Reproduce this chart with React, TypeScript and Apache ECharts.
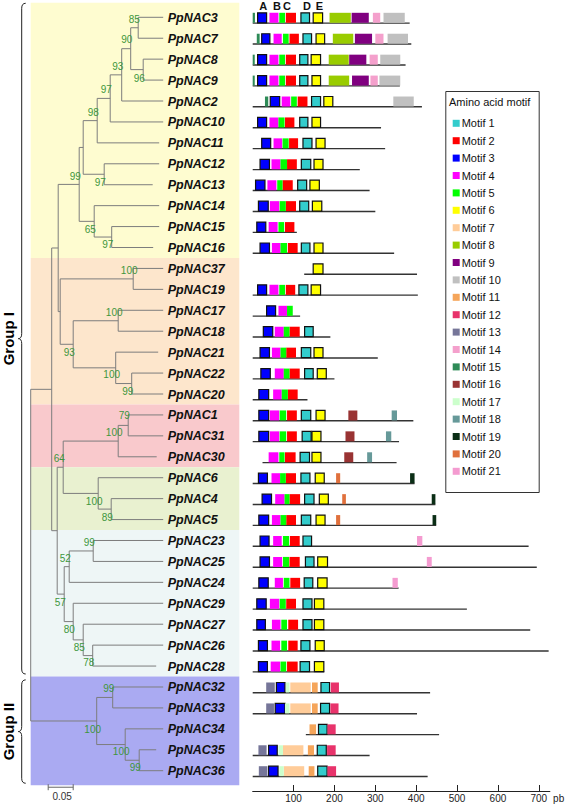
import React, { useEffect, useRef } from "react";
import * as echarts from "echarts";

// ---------------- DATA ----------------
const geneNames = [
  "PpNAC3", "PpNAC7", "PpNAC8", "PpNAC9", "PpNAC2", "PpNAC10", "PpNAC11", "PpNAC12",
  "PpNAC13", "PpNAC14", "PpNAC15", "PpNAC16", "PpNAC37", "PpNAC19", "PpNAC17", "PpNAC18",
  "PpNAC21", "PpNAC22", "PpNAC20", "PpNAC1", "PpNAC31", "PpNAC30", "PpNAC6", "PpNAC4",
  "PpNAC5", "PpNAC23", "PpNAC25", "PpNAC24", "PpNAC29", "PpNAC27", "PpNAC26", "PpNAC28",
  "PpNAC32", "PpNAC33", "PpNAC34", "PpNAC35", "PpNAC36",
];

// distance of each leaf tip from the root (substitutions / site)
const leafDepth = [
  0.265, 0.265, 0.265, 0.265, 0.265, 0.265, 0.257, 0.257,
  0.244, 0.257, 0.257, 0.245, 0.265, 0.265, 0.265, 0.265,
  0.255, 0.265, 0.265, 0.265, 0.265, 0.252, 0.265, 0.265,
  0.265, 0.265, 0.265, 0.265, 0.265, 0.265, 0.265, 0.251,
  0.265, 0.265, 0.265, 0.251, 0.265,
];

type TNode = { d: number; b: number | null; lr: number | null; c: (TNode | string)[] };
const N = (d: number, b: number | null, lr: number | null, c: (TNode | string)[]): TNode => ({ d, b, lr, c });

// rooted NJ tree: node depth, bootstrap, bootstrap-label row
const tree: TNode = N(0, null, null, [
  N(0.042, null, null, [
    N(0.055, null, null, [
      N(0.097, 99, 7.62, [
        N(0.105, null, null, [
          N(0.133, 98, 4.56, [
            N(0.159, 97, 3.47, [
              N(0.182, 93, 2.33, [
                N(0.2, 90, 1.08, [
                  N(0.215, 85, 0.1, ["PpNAC3", "PpNAC7"]),
                  N(0.225, 96, 2.93, ["PpNAC8", "PpNAC9"]),
                ]),
                "PpNAC2",
              ]),
              "PpNAC10",
            ]),
            "PpNAC11",
          ]),
          N(0.147, 97, 7.9, ["PpNAC12", "PpNAC13"]),
        ]),
        N(0.127, 65, 10.16, ["PpNAC14", N(0.162, 97, 10.85, ["PpNAC15", "PpNAC16"])]),
      ]),
      N(0.059, null, null, [
        N(0.205, 100, 12.12, ["PpNAC37", "PpNAC19"]),
        N(0.085, 93, 16.02, [
          N(0.175, 100, 14.09, ["PpNAC17", "PpNAC18"]),
          N(0.17, 100, 17.09, ["PpNAC21", N(0.202, 99, 17.89, ["PpNAC22", "PpNAC20"])]),
        ]),
      ]),
    ]),
    N(0.053, null, null, [
      N(0.065, 64, 21.1, [
        N(0.175, 100, 19.83, [N(0.195, 79, 19.05, ["PpNAC1", "PpNAC31"]), "PpNAC30"]),
        N(0.135, 100, 23.14, ["PpNAC6", N(0.161, 89, 23.91, ["PpNAC4", "PpNAC5"])]),
      ]),
      N(0.067, 57, 27.97, [
        N(0.077, 52, 25.85, [N(0.125, 99, 25.1, ["PpNAC23", "PpNAC25"]), "PpNAC24"]),
        N(0.085, 80, 29.27, [
          "PpNAC29",
          N(0.105, 85, 30.1, ["PpNAC27", N(0.124, 78, 30.82, ["PpNAC26", "PpNAC28"])]),
        ]),
      ]),
    ]),
  ]),
  N(0.132, 100, 34.05, [
    N(0.164, 99, 32.08, ["PpNAC32", "PpNAC33"]),
    N(0.189, 100, 35.08, ["PpNAC34", N(0.217, 99, 35.87, ["PpNAC35", "PpNAC36"])]),
  ]),
]);

// clade shading (row ranges)
const cladeBands = [
  [-0.7, 11.5], [11.5, 18.5], [18.5, 21.5], [21.5, 24.5], [24.5, 31.5], [31.5, 36.7],
];
const cladeColors = ["#FEFCD0", "#FDE6CC", "#F9C9CC", "#E9F1D0", "#EEF6F6", "#AAAAF2"];

const groupNames = ["Group I", "Group II"];
const groupRows = [[-0.67, 31.38], [31.66, 36.6]];

const scaleBarLength = 0.05;

// protein span (aa) of every gene, same order as geneNames
const geneSpans = [
  [0, 384], [0, 388], [0, 374], [0, 360], [0, 414], [0, 314], [0, 324], [0, 262],
  [0, 286], [0, 300], [0, 108], [0, 346], [126, 402], [0, 404], [0, 116], [0, 190],
  [0, 306], [0, 200], [0, 134], [0, 393], [0, 358], [24, 352], [0, 396], [0, 447],
  [0, 449], [0, 675], [0, 695], [0, 357], [0, 524], [0, 679], [0, 724], [0, 175],
  [0, 434], [0, 402], [130, 456], [0, 286], [0, 428],
];

// [gene row, motif, start, end]
const motifSites: number[][] = [
  [0, 15, 0, 5.5], [0, 3, 12, 34], [0, 4, 41, 63], [0, 5, 65, 79], [0, 2, 81, 106], [0, 1, 118, 139], [0, 6, 148, 171], [0, 8, 188, 240], [0, 9, 242, 284], [0, 14, 294, 312], [0, 10, 320, 372],
  [1, 15, 10, 17], [1, 3, 22, 42], [1, 4, 51, 71], [1, 5, 74, 88], [1, 2, 90, 113], [1, 1, 123, 144], [1, 6, 155, 176], [1, 8, 196, 246], [1, 9, 250, 292], [1, 14, 300, 320], [1, 10, 330, 380],
  [2, 15, 0, 5], [2, 3, 12, 34], [2, 4, 41, 63], [2, 5, 65, 79], [2, 2, 81, 106], [2, 1, 115, 135], [2, 6, 143, 166], [2, 8, 186, 235], [2, 9, 236, 278], [2, 14, 286, 306], [2, 10, 312, 361],
  [3, 15, 0, 5], [3, 3, 12, 34], [3, 4, 41, 63], [3, 5, 65, 79], [3, 2, 81, 106], [3, 1, 115, 135], [3, 6, 145, 166], [3, 8, 186, 236], [3, 9, 243, 284], [3, 14, 288, 306], [3, 10, 310, 361],
  [4, 15, 30, 38], [4, 3, 43, 66], [4, 4, 71, 92], [4, 5, 94, 108], [4, 2, 110, 134], [4, 1, 144, 166], [4, 6, 174, 196], [4, 10, 344, 394],
  [5, 3, 12, 34], [5, 4, 41, 63], [5, 5, 63, 78], [5, 2, 79, 102], [5, 1, 115, 135], [5, 6, 145, 166],
  [6, 3, 22, 44], [6, 4, 51, 72], [6, 5, 73, 88], [6, 2, 89, 111], [6, 1, 123, 145], [6, 6, 155, 177],
  [7, 3, 18, 41], [7, 4, 46, 68], [7, 5, 68, 84], [7, 2, 84, 108], [7, 1, 119, 142], [7, 6, 150, 172],
  [8, 3, 7, 30], [8, 4, 36, 58], [8, 5, 60, 73], [8, 2, 73, 98], [8, 1, 110, 132], [8, 6, 140, 163],
  [9, 3, 14, 38], [9, 4, 42, 65], [9, 5, 66, 81], [9, 2, 81, 106], [9, 1, 115, 137], [9, 6, 146, 169],
  [10, 3, 10, 32], [10, 4, 39, 61], [10, 5, 63, 77], [10, 2, 79, 102],
  [11, 3, 18, 41], [11, 4, 47, 68], [11, 5, 68, 84], [11, 2, 86, 110], [11, 1, 119, 140], [11, 6, 150, 172],
  [12, 6, 148, 172],
  [13, 3, 12, 34], [13, 4, 41, 63], [13, 5, 65, 79], [13, 2, 81, 104], [13, 1, 113, 135], [13, 6, 143, 166],
  [14, 3, 34, 56], [14, 4, 63, 84], [14, 5, 84, 98],
  [15, 3, 26, 49], [15, 4, 54, 76], [15, 5, 76, 90], [15, 2, 90, 115], [15, 1, 127, 148],
  [16, 3, 18, 41], [16, 4, 47, 68], [16, 5, 68, 82], [16, 2, 82, 106], [16, 1, 119, 142], [16, 6, 150, 172],
  [17, 3, 20, 43], [17, 4, 54, 76], [17, 5, 76, 90], [17, 2, 90, 115], [17, 1, 127, 148], [17, 6, 158, 180],
  [18, 3, 15, 39], [18, 4, 50, 71], [18, 5, 71, 86], [18, 2, 86, 110],
  [19, 3, 15, 39], [19, 4, 42, 65], [19, 5, 66, 82], [19, 2, 84, 108], [19, 1, 119, 142], [19, 6, 155, 177], [19, 16, 234, 256], [19, 18, 340, 353],
  [20, 3, 15, 39], [20, 4, 42, 65], [20, 5, 66, 82], [20, 2, 84, 108], [20, 1, 121, 143], [20, 6, 145, 167], [20, 16, 227, 249], [20, 18, 326, 339],
  [21, 4, 39, 63], [21, 5, 65, 78], [21, 2, 79, 105], [21, 1, 116, 139], [21, 6, 145, 167], [21, 16, 224, 246], [21, 18, 280, 292],
  [22, 3, 14, 36], [22, 4, 46, 67], [22, 5, 67, 81], [22, 2, 81, 106], [22, 1, 118, 140], [22, 6, 153, 175], [22, 20, 204, 214], [22, 19, 385, 396],
  [23, 3, 23, 46], [23, 4, 55, 78], [23, 5, 78, 90], [23, 2, 90, 116], [23, 1, 127, 150], [23, 6, 163, 185], [23, 20, 219, 228], [23, 19, 438, 447],
  [24, 3, 15, 39], [24, 4, 47, 68], [24, 5, 68, 82], [24, 2, 82, 106], [24, 1, 119, 142], [24, 6, 155, 177], [24, 20, 204, 214], [24, 19, 440, 449],
  [25, 3, 18, 40], [25, 4, 50, 71], [25, 5, 74, 89], [25, 2, 91, 115], [25, 1, 123, 144], [25, 21, 402, 415],
  [26, 3, 18, 41], [26, 4, 50, 72], [26, 5, 74, 89], [26, 2, 90, 115], [26, 1, 129, 150], [26, 6, 159, 183], [26, 21, 426, 438],
  [27, 3, 15, 38], [27, 4, 54, 74], [27, 5, 76, 90], [27, 2, 92, 116], [27, 1, 126, 147], [27, 6, 159, 182], [27, 21, 342, 355],
  [28, 3, 10, 33], [28, 4, 42, 65], [28, 5, 66, 81], [28, 2, 82, 106], [28, 1, 123, 145], [28, 6, 151, 174],
  [29, 3, 10, 31], [29, 4, 47, 68], [29, 5, 70, 84], [29, 2, 87, 111], [29, 1, 123, 145], [29, 6, 151, 174],
  [30, 3, 14, 36], [30, 4, 46, 67], [30, 5, 70, 84], [30, 2, 87, 110], [30, 1, 118, 140], [30, 6, 153, 175],
  [31, 3, 14, 36], [31, 4, 44, 67], [31, 5, 68, 82], [31, 2, 84, 110], [31, 1, 116, 139], [31, 6, 151, 174],
  [32, 13, 33, 54], [32, 3, 58, 79], [32, 17, 81, 90], [32, 7, 92, 142], [32, 11, 145, 159], [32, 1, 167, 188], [32, 12, 191, 211],
  [33, 13, 33, 52], [33, 3, 55, 79], [33, 17, 79, 90], [33, 7, 92, 142], [33, 11, 145, 159], [33, 1, 166, 188], [33, 12, 190, 210],
  [34, 11, 139, 155], [34, 1, 161, 182], [34, 12, 183, 203],
  [35, 13, 14, 34], [35, 3, 39, 60], [35, 17, 63, 74], [35, 7, 74, 124], [35, 11, 135, 150], [35, 1, 158, 180], [35, 12, 182, 203],
  [36, 13, 15, 36], [36, 3, 39, 62], [36, 17, 65, 76], [36, 7, 76, 126], [36, 11, 137, 151], [36, 1, 159, 182], [36, 12, 183, 204],
];

const motifColors = [
  "#33CCCC", "#FF0000", "#0000FF", "#FF00FF", "#00FF00", "#FFFF00", "#FFCC99",
  "#99CC00", "#800080", "#C0C0C0", "#F5A55A", "#E8336B", "#767699", "#F4A0CC",
  "#2E8B57", "#993333", "#CCFFCC", "#669999", "#0B2E16", "#E0703C", "#F49BD0",
];
const borderedMotifs = [1, 3, 6];
const motifNames = motifColors.map((_, i) => "Motif " + (i + 1));

const subdomainLabels = ["A", "B", "C", "D", "E"];
const subdomainPos = [25.6, 59.2, 84, 133, 163.4];

const axisTickValues = [100, 200, 300, 400, 500, 600, 700];
const axisMax = 727;

// ---------------- LAYOUT CONSTANTS ----------------
const FONT = "'Liberation Sans', Arial, Helvetica, sans-serif";
const ROW_MIN = -0.7;
const ROW_MAX = 36.7;
const GRID_TOP = 2.65;
const GRID_H = 782.7;
const TREE_LEFT = 30.7;
const TREE_W = 208.6;
const TREE_MAX = 0.4172;
const NAME_DEPTH = 0.274;
const MOTIF_LEFT = 252.7;
const MOTIF_W = 302.4;

function layoutTree(node: TNode, segs: number[][], boots: number[][]): { y: number; d: number } {
  const kids = node.c.map((ch) => {
    if (typeof ch === "string") {
      const r = geneNames.indexOf(ch);
      return { y: r, d: leafDepth[r] };
    }
    return layoutTree(ch, segs, boots);
  });
  const y0 = kids[0].y;
  const y1 = kids[kids.length - 1].y;
  segs.push([node.d, y0, node.d, y1]);
  kids.forEach((k) => segs.push([node.d, k.y, k.d, k.y]));
  if (node.b != null) boots.push([node.d, node.lr as number, node.b]);
  return { y: (y0 + y1) / 2, d: node.d };
}

export default function App() {
  const ref = useRef<HTMLDivElement>(null);

  useEffect(() => {
    document.body.style.margin = "0";
    if (!ref.current) return;
    const chart = echarts.init(ref.current, null, { renderer: "svg" });

    const segs: number[][] = [];
    const boots: number[][] = [];
    layoutTree(tree, segs, boots);

    const motifSeries = motifNames.map((name, i) => {
      const k = i + 1;
      const bordered = borderedMotifs.indexOf(k) >= 0;
      return {
        type: "custom",
        name,
        xAxisIndex: 1,
        yAxisIndex: 1,
        z: 4,
        itemStyle: { color: motifColors[i] },
        encode: { x: [0, 1], y: 2 },
        data: motifSites.filter((m) => m[1] === k).map((m) => [m[2], m[3], m[0]]),
        renderItem: (params: any, api: any) => {
          const a = api.coord([api.value(0), api.value(2)]);
          const b = api.coord([api.value(1), api.value(2)]);
          return {
            type: "rect",
            shape: { x: a[0], y: a[1] - 4.5, width: Math.max(1.5, b[0] - a[0]), height: 10 },
            style: {
              fill: motifColors[i],
              stroke: bordered ? "#111" : null,
              lineWidth: bordered ? 1.2 : 0,
            },
          };
        },
      };
    });

    const option: any = {
      animation: false,
      textStyle: { fontFamily: FONT },
      grid: [
        { left: TREE_LEFT, top: GRID_TOP, width: TREE_W, height: GRID_H },
        { left: MOTIF_LEFT, top: GRID_TOP, width: MOTIF_W, height: GRID_H },
      ],
      xAxis: [
        { type: "value", gridIndex: 0, min: 0, max: TREE_MAX, show: false },
        {
          type: "value",
          gridIndex: 1,
          min: 0,
          max: axisMax,
          position: "bottom",
          offset: 5.65,
          splitLine: { show: false },
          axisLine: { show: true, onZero: false, lineStyle: { color: "#222", width: 1 } },
          axisTick: { show: true, inside: true, length: 6, customValues: axisTickValues, lineStyle: { color: "#222" } },
          axisLabel: { customValues: axisTickValues, margin: 2, fontSize: 10, color: "#222", fontFamily: FONT },
          name: "pb",
          nameLocation: "end",
          nameGap: -3,
          nameTextStyle: { fontSize: 10, color: "#222", verticalAlign: "top", padding: [2, 0, 0, 0], fontFamily: FONT },
        },
      ],
      yAxis: [
        { type: "value", gridIndex: 0, min: ROW_MIN, max: ROW_MAX, inverse: true, show: false },
        { type: "value", gridIndex: 1, min: ROW_MIN, max: ROW_MAX, inverse: true, show: false },
      ],
      legend: {
        data: motifNames,
        orient: "vertical",
        left: 452.7,
        top: 116.3,
        padding: 0,
        itemWidth: 7,
        itemHeight: 7,
        itemGap: 3.4,
        icon: "rect",
        selectedMode: false,
        textStyle: { fontSize: 11, color: "#111", lineHeight: 14, fontFamily: FONT, padding: [0, 0, 0, -3] },
      },
      graphic: [
        {
          type: "rect",
          left: 443.3,
          top: 89,
          shape: { width: 93.4, height: 401 },
          style: { fill: "none", stroke: "#333", lineWidth: 1 },
          z: 1,
        },
        {
          type: "text",
          left: 449,
          top: 96,
          style: { text: "Amino acid motif", font: `11px ${FONT}`, fill: "#111" },
          z: 2,
        },
      ],
      series: [
        // clade shading
        {
          type: "custom",
          xAxisIndex: 0,
          yAxisIndex: 0,
          z: 0,
          silent: true,
          encode: { x: 0, y: [1, 2] },
          data: cladeBands.map((b) => [0, b[0], b[1]]),
          renderItem: (params: any, api: any) => {
            const cs = params.coordSys;
            const t = api.coord([0, api.value(1)])[1];
            const bm = api.coord([0, api.value(2)])[1];
            return {
              type: "rect",
              shape: { x: cs.x, y: t, width: cs.width, height: bm - t },
              style: { fill: cladeColors[params.dataIndex] },
            };
          },
        },
        // tree branches
        {
          type: "custom",
          xAxisIndex: 0,
          yAxisIndex: 0,
          z: 2,
          silent: true,
          encode: { x: [0, 2], y: [1, 3] },
          data: segs,
          renderItem: (params: any, api: any) => {
            const a = api.coord([api.value(0), api.value(1)]);
            const b = api.coord([api.value(2), api.value(3)]);
            return {
              type: "line",
              shape: { x1: a[0], y1: a[1], x2: b[0], y2: b[1] },
              style: { stroke: "#7d7d7d", lineWidth: 1 },
            };
          },
        },
        // bootstrap values
        {
          type: "custom",
          xAxisIndex: 0,
          yAxisIndex: 0,
          z: 3,
          silent: true,
          encode: { x: 0, y: 1 },
          data: boots,
          renderItem: (params: any, api: any) => {
            const p = api.coord([api.value(0), api.value(1)]);
            return {
              type: "text",
              x: p[0] - 4,
              y: p[1],
              style: {
                text: String(api.value(2)),
                fill: "#3d963d",
                font: `10px ${FONT}`,
                align: "center",
                verticalAlign: "middle",
              },
            };
          },
        },
        // gene names
        {
          type: "custom",
          xAxisIndex: 0,
          yAxisIndex: 0,
          z: 3,
          silent: true,
          encode: { x: 0, y: 1 },
          data: geneNames.map((_, i) => [NAME_DEPTH, i]),
          renderItem: (params: any, api: any) => {
            const p = api.coord([api.value(0), api.value(1)]);
            return {
              type: "text",
              x: p[0],
              y: p[1] + 0.5,
              style: {
                text: geneNames[params.dataIndex],
                fill: "#111",
                font: `italic bold 12.5px ${FONT}`,
                align: "left",
                verticalAlign: "middle",
              },
            };
          },
        },
        // scale bar
        {
          type: "custom",
          xAxisIndex: 0,
          yAxisIndex: 0,
          z: 3,
          silent: true,
          clip: false,
          encode: { x: [0, 1], y: 2 },
          data: [[0.035, 0.035 + scaleBarLength, 36.79]],
          renderItem: (params: any, api: any) => {
            const a = api.coord([api.value(0), api.value(2)]);
            const b = api.coord([api.value(1), api.value(2)]);
            const st = { stroke: "#666", lineWidth: 1 };
            return {
              type: "group",
              children: [
                { type: "line", shape: { x1: a[0], y1: a[1], x2: b[0], y2: b[1] }, style: st },
                { type: "line", shape: { x1: a[0], y1: a[1] - 3, x2: a[0], y2: a[1] + 3 }, style: st },
                { type: "line", shape: { x1: b[0], y1: b[1] - 3, x2: b[0], y2: b[1] + 3 }, style: st },
                {
                  type: "text",
                  x: (a[0] + b[0]) / 2 + 1.5,
                  y: a[1] + 9.5,
                  style: { text: String(scaleBarLength), fill: "#333", font: `10px ${FONT}`, align: "center", verticalAlign: "middle" },
                },
              ],
            };
          },
        },
        // group braces
        {
          type: "custom",
          xAxisIndex: 0,
          yAxisIndex: 0,
          z: 3,
          silent: true,
          clip: false,
          encode: { x: 0, y: [1, 2] },
          data: groupRows.map((g) => [0, g[0], g[1]]),
          renderItem: (params: any, api: any) => {
            const x0 = params.coordSys.x;
            const y1 = api.coord([0, api.value(1)])[1];
            const y2 = api.coord([0, api.value(2)])[1];
            const ym = (y1 + y2) / 2;
            const xl = x0 - 9;
            const xt = x0 - 12.4;
            const xc = x0 - 5;
            const d = `M ${xc} ${y1} Q ${xl} ${y1} ${xl} ${y1 + 5} L ${xl} ${ym - 5} Q ${xl} ${ym} ${xt} ${ym} Q ${xl} ${ym} ${xl} ${ym + 5} L ${xl} ${y2 - 5} Q ${xl} ${y2} ${xc} ${y2}`;
            return {
              type: "group",
              children: [
                { type: "path", shape: { pathData: d }, style: { fill: "none", stroke: "#222", lineWidth: 1 } },
                {
                  type: "text",
                  x: x0 - 22,
                  y: ym,
                  rotation: Math.PI / 2,
                  style: {
                    text: groupNames[params.dataIndex],
                    fill: "#000",
                    font: `bold 15px ${FONT}`,
                    align: "center",
                    verticalAlign: "middle",
                  },
                },
              ],
            };
          },
        },
        // gene lines
        {
          type: "custom",
          xAxisIndex: 1,
          yAxisIndex: 1,
          z: 2,
          silent: true,
          encode: { x: [0, 1], y: 2 },
          data: geneSpans.map((s, i) => [s[0], s[1], i]),
          renderItem: (params: any, api: any) => {
            const a = api.coord([api.value(0), api.value(2)]);
            const b = api.coord([api.value(1), api.value(2)]);
            return {
              type: "line",
              shape: { x1: a[0], y1: a[1] + 5.8, x2: b[0], y2: b[1] + 5.8 },
              style: { stroke: "#333", lineWidth: 1.4 },
            };
          },
        },
        // subdomain labels
        {
          type: "custom",
          xAxisIndex: 1,
          yAxisIndex: 1,
          z: 3,
          silent: true,
          clip: false,
          encode: { x: 0, y: 1 },
          data: subdomainPos.map((p) => [p, -0.59]),
          renderItem: (params: any, api: any) => {
            const p = api.coord([api.value(0), api.value(1)]);
            return {
              type: "text",
              x: p[0],
              y: Math.max(0.5, p[1] - 5),
              style: {
                text: subdomainLabels[params.dataIndex],
                fill: "#111",
                font: `bold 11px ${FONT}`,
                align: "center",
                verticalAlign: "top",
              },
            };
          },
        },
        ...motifSeries,
      ],
    };

    chart.setOption(option);
    return () => chart.dispose();
  }, []);

  return <div ref={ref} style={{ position: "absolute", left: 0, top: 0, width: 567, height: 804 }} />;
}
